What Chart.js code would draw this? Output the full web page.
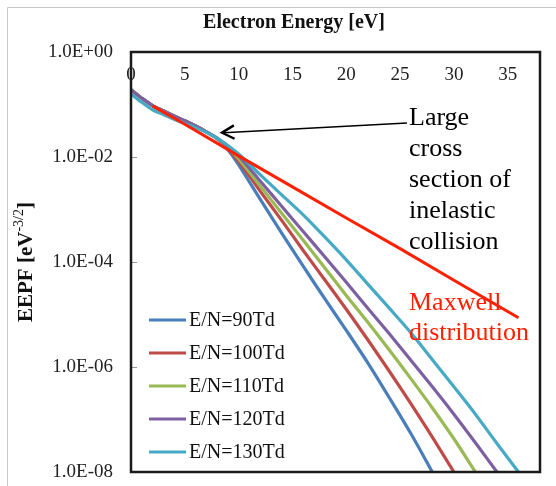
<!DOCTYPE html>
<html>
<head>
<meta charset="utf-8">
<script src="https://cdn.jsdelivr.net/npm/chart.js@4/dist/chart.umd.min.js"></script>
<style>
  html, body { margin: 0; padding: 0; background: #fff; }
  #wrap { width: 556px; height: 486px; }
</style>
</head>
<body>
<div id="wrap"><canvas id="eepfChart" width="556" height="486"></canvas></div>
<script>
// electron energy [eV] shared by the E/N series (each series stops where it hits 1e-8)
const energies = [0, 1, 2, 3, 4, 5, 6, 7, 8, 9, 10, 12, 14, 16, 18, 20, 22, 24, 26, 28, 30, 32, 34, 36];

const eepf90 = [0.19, 0.132, 0.0955, 0.0759, 0.0603, 0.049, 0.0389, 0.0302, 0.0224, 0.0138, 7.1e-3,
  1.58e-3, 3.55e-4, 8.3e-5, 2.0e-5, 5.0e-6, 1.2e-6, 2.6e-7, 5.4e-8, 1.0e-8];
const eepf100 = [0.19, 0.132, 0.0955, 0.0759, 0.0603, 0.049, 0.0389, 0.0302, 0.0224, 0.0145, 8.3e-3,
  2.24e-3, 6.2e-4, 1.66e-4, 4.6e-5, 1.26e-5, 3.3e-6, 8.3e-7, 2.0e-7, 4.6e-8, 1.0e-8];
const eepf110 = [0.19, 0.132, 0.0955, 0.0759, 0.0603, 0.049, 0.0389, 0.0302, 0.0224, 0.0151, 9.3e-3,
  2.8e-3, 8.5e-4, 2.6e-4, 7.8e-5, 2.3e-5, 7.1e-6, 2.1e-6, 6.0e-7, 1.66e-7, 4.3e-8, 1.0e-8];
const eepf120 = [0.19, 0.132, 0.0955, 0.0759, 0.0603, 0.049, 0.0389, 0.0302, 0.0229, 0.0158, 0.0105,
  3.5e-3, 1.15e-3, 3.8e-4, 1.26e-4, 4.1e-5, 1.32e-5, 4.3e-6, 1.35e-6, 4.2e-7, 1.26e-7, 3.6e-8, 1.0e-8];
const eepf130 = [0.158, 0.110, 0.0794, 0.0646, 0.0525, 0.0437, 0.0363, 0.0295, 0.0229, 0.0166, 0.0115,
  4.6e-3, 1.9e-3, 7.9e-4, 3.0e-4, 1.1e-4, 3.8e-5, 1.32e-5, 4.5e-6, 1.38e-6, 4.2e-7, 1.26e-7, 3.5e-8, 1.0e-8];

// Maxwell distribution (straight line on the log axis)
const maxwellEnergy = [2, 5, 10, 15, 20, 25, 30, 36];
const maxwellEepf = [0.094, 0.042, 0.0105, 2.7e-3, 6.9e-4, 1.8e-4, 4.5e-5, 8.7e-6];

const seriesLabels = ['E/N=90Td', 'E/N=100Td', 'E/N=110Td', 'E/N=120Td', 'E/N=130Td'];
const seriesColors = ['#4a7ebb', '#be4b48', '#98b954', '#7d60a0', '#46aac5'];
const seriesValues = [eepf90, eepf100, eepf110, eepf120, eepf130];

const yTickValues = [1e-8, 1e-6, 1e-4, 1e-2, 1];
const yTickLabels = ['1.0E-08', '1.0E-06', '1.0E-04', '1.0E-02', '1.0E+00'];

const arrowTip = { x: 8.45, y: 0.029 };

const serif = '"Liberation Serif", "Times New Roman", serif';

function toPoints(xs, ys) {
    return ys.map((v, i) => ({ x: xs[i], y: v }));
}

const datasets = [{
    label: 'Maxwell',
    data: toPoints(maxwellEnergy, maxwellEepf),
    borderColor: '#ff2000',
    borderWidth: 3,
    order: 0
}];
seriesValues.forEach((vals, i) => {
    datasets.push({
        label: seriesLabels[i],
        data: toPoints(energies, vals),
        borderColor: seriesColors[i],
        borderWidth: 3.2,
        tension: 0.3,
        order: 6 - i
    });
});

// frame, tick labels on the top axis, titles, legend and notes
const decorations = {
    id: 'decorations',
    afterDraw(chart) {
        const c = chart.ctx;
        const a = chart.chartArea;
        const xs = chart.scales.x;
        const ys = chart.scales.y;
        c.save();

        // outer light frame (left and top only)
        c.strokeStyle = '#c8c8c8';
        c.lineWidth = 1;
        c.beginPath();
        c.moveTo(7.5, 486);
        c.lineTo(7.5, 7.5);
        c.lineTo(556, 7.5);
        c.stroke();

        // small inward tick marks on y axis
        c.strokeStyle = '#999';
        c.lineWidth = 1;
        yTickValues.forEach(v => {
            const py = Math.round(ys.getPixelForValue(v)) + 0.5;
            c.beginPath();
            c.moveTo(a.left, py);
            c.lineTo(a.left + 6, py);
            c.stroke();
        });

        // plot frame
        c.strokeStyle = '#1a1a1a';
        c.lineWidth = 2.5;
        c.strokeRect(a.left, a.top, a.right - a.left, a.bottom - a.top);

        // x tick labels sit inside the frame, under the top edge
        c.fillStyle = '#222';
        c.font = '19px ' + serif;
        c.textAlign = 'center';
        c.textBaseline = 'middle';
        xs.ticks.forEach(t => {
            c.fillText(String(t.value), xs.getPixelForValue(t.value), a.top + 23);
        });

        // x axis title on top
        c.fillStyle = '#111';
        c.font = 'bold 20px ' + serif;
        c.fillText('Electron Energy [eV]', 294, 23);

        // y axis title with superscript
        c.save();
        c.translate(25, 262);
        c.rotate(-Math.PI / 2);
        const main = 'EEPF [eV';
        const sup = '-3/2';
        const close = ']';
        c.font = 'bold 21px ' + serif;
        const wMain = c.measureText(main).width;
        const wClose = c.measureText(close).width;
        c.font = '14px ' + serif;
        const wSup = c.measureText(sup).width;
        let x0 = -(wMain + wSup + wClose) / 2;
        c.textAlign = 'left';
        c.textBaseline = 'alphabetic';
        c.font = 'bold 21px ' + serif;
        c.fillText(main, x0, 7);
        c.font = '14px ' + serif;
        c.fillText(sup, x0 + wMain, -2);
        c.font = 'bold 21px ' + serif;
        c.fillText(close, x0 + wMain + wSup, 7);
        c.restore();

        // legend inside the plot
        c.font = '20px ' + serif;
        c.textAlign = 'left';
        c.textBaseline = 'middle';
        seriesLabels.forEach((lab, i) => {
            const ly = 320 + i * 33;
            c.strokeStyle = seriesColors[i];
            c.lineWidth = 3;
            c.beginPath();
            c.moveTo(149, ly);
            c.lineTo(186, ly);
            c.stroke();
            c.fillStyle = '#111';
            c.fillText(lab, 189, ly + 1);
        });

        // annotation text
        c.font = '26px ' + serif;
        c.textBaseline = 'alphabetic';
        c.fillStyle = '#000';
        ['Large', 'cross', 'section of', 'inelastic', 'collision'].forEach((t, i) => {
            c.fillText(t, 409, 125 + i * 31);
        });
        c.fillStyle = '#ff2000';
        c.fillText('Maxwell', 409, 310);
        c.fillText('distribution', 409, 340);

        // arrow
        const tx = xs.getPixelForValue(arrowTip.x);
        const ty = ys.getPixelForValue(arrowTip.y);
        c.strokeStyle = '#000';
        c.lineWidth = 1.4;
        c.beginPath();
        c.moveTo(407, 123);
        c.lineTo(tx + 2, ty);
        c.stroke();
        const ang = Math.atan2(123 - ty, 407 - tx);
        c.lineWidth = 2.4;
        c.beginPath();
        c.moveTo(tx + 14 * Math.cos(ang - 0.5), ty + 14 * Math.sin(ang - 0.5));
        c.lineTo(tx, ty);
        c.lineTo(tx + 14 * Math.cos(ang + 0.5), ty + 14 * Math.sin(ang + 0.5));
        c.stroke();

        c.restore();
    }
};

const ctx = document.getElementById('eepfChart').getContext('2d');
const eepfChart = new Chart(ctx, {
    type: 'line',
    data: { datasets: datasets },
    options: {
        responsive: false,
        animation: false,
        layout: { padding: { left: 45, top: 7, right: 16, bottom: 14 } },
        elements: { point: { radius: 0 } },
        plugins: {
            legend: { display: false },
            tooltip: { enabled: false }
        },
        scales: {
            x: {
                type: 'linear',
                position: 'top',
                min: 0,
                max: 38,
                grid: { display: false, drawTicks: false },
                border: { display: false },
                ticks: { stepSize: 5, includeBounds: false, display: false },
                afterFit: s => {
                    s.height = 45;
                    s.paddingLeft = 0;
                    s.paddingRight = 0;
                }
            },
            y: {
                type: 'logarithmic',
                min: 1e-8,
                max: 1,
                grid: { display: false, drawTicks: false },
                border: { display: false },
                afterBuildTicks: s => { s.ticks = yTickValues.map(v => ({ value: v })); },
                ticks: {
                    padding: 18,
                    color: '#222',
                    font: { family: serif, size: 19 },
                    callback: (value, index) => yTickLabels[index]
                },
                afterFit: s => {
                    s.width = 86;
                    s.paddingTop = 0;
                    s.paddingBottom = 0;
                }
            }
        }
    },
    plugins: [decorations]
});
</script>
</body>
</html>
